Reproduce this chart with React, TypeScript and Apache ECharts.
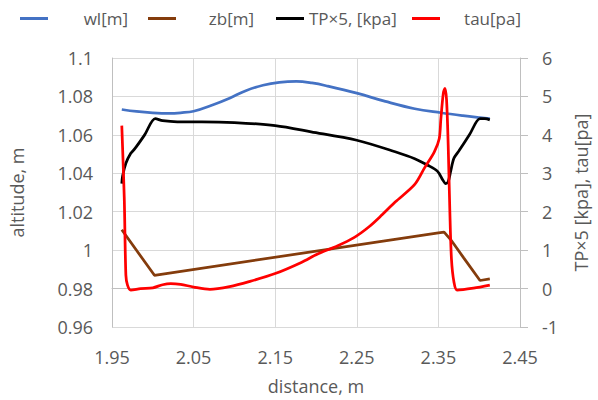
import React, { useEffect, useRef } from "react";
import * as echarts from "echarts";

// distance (m) / value pairs
const wlX = [1.962, 1.98, 2.0, 2.02, 2.034, 2.05, 2.074, 2.094, 2.114, 2.135, 2.155, 2.176, 2.195, 2.214, 2.25, 2.285, 2.321, 2.353, 2.38, 2.401, 2.413];
const wlY = [1.0732, 1.0722, 1.0715, 1.0712, 1.0715, 1.0723, 1.0757, 1.0791, 1.083, 1.0858, 1.0873, 1.0878, 1.087, 1.0854, 1.0817, 1.0774, 1.0736, 1.0715, 1.07, 1.069, 1.0685];

const zbX = [1.962, 2.002, 2.35, 2.357, 2.365, 2.381, 2.401, 2.413];
const zbY = [1.0106, 0.9869, 1.009, 1.0094, 1.0055, 0.996, 0.9842, 0.985];

const tpX = [1.962, 1.963, 1.967, 1.973, 1.978, 1.99, 2.003, 2.012, 2.03, 2.06, 2.1, 2.15, 2.194, 2.25, 2.297, 2.321, 2.337, 2.349, 2.355, 2.359, 2.362, 2.365, 2.369, 2.375, 2.388, 2.401, 2.407, 2.413];
const tpY = [2.73, 2.93, 3.26, 3.52, 3.64, 4.0, 4.42, 4.37, 4.34, 4.34, 4.32, 4.24, 4.08, 3.86, 3.56, 3.38, 3.21, 3.05, 2.84, 2.73, 2.78, 3.05, 3.39, 3.58, 4.0, 4.42, 4.42, 4.39];

const tauX = [1.962, 1.965, 1.967, 1.969, 1.973, 1.985, 2.0, 2.012, 2.022, 2.034, 2.05, 2.07, 2.094, 2.118, 2.15, 2.182, 2.202, 2.226, 2.246, 2.265, 2.281, 2.297, 2.321, 2.333, 2.345, 2.351, 2.353, 2.356, 2.358, 2.36, 2.362, 2.364, 2.366, 2.369, 2.373, 2.393, 2.413];
const tauY = [4.24, 2.38, 0.35, 0.09, -0.04, 0.0, 0.02, 0.1, 0.13, 0.11, 0.04, -0.02, 0.05, 0.18, 0.39, 0.68, 0.9, 1.11, 1.32, 1.61, 1.92, 2.25, 2.71, 3.14, 3.56, 3.9, 4.41, 5.08, 5.21, 4.91, 3.73, 2.04, 0.77, 0.18, -0.04, 0.01, 0.09];

const seriesNames = ["wl[m]", "zb[m]", "TP×5, [kpa]", "tau[pa]"];
const xTitle = "distance, m";
const yLeftTitle = "altitude, m";
const yRightTitle = "TP×5 [kpa], tau[pa]";

const pairs = (xs: number[], ys: number[]) => xs.map((x, i) => [x, ys[i]]);

export default function App() {
  const ref = useRef<HTMLDivElement>(null);
  useEffect(() => {
    document.body.style.margin = "0";
    const chart = echarts.init(ref.current!, null, { renderer: "svg" });
    const font = "'Open Sans', sans-serif";
    const fs = 18;
    const txt = "#595959";
    const colors = ["#4472C4", "#843C0C", "#000000", "#FF0000"];
    const legendLeft = [20, 148, 276, 412];
    const legendW = [75, 73, 0, 76];
    const legends = seriesNames.map((n, i) => ({
      left: legendLeft[i],
      top: 10,
      padding: 0,
      data: [n],
      icon: "rect",
      itemWidth: 28,
      itemHeight: 3,
      formatter: (name: string) => `{a|${name}}`,
      textStyle: {
        rich: {
          a: legendW[i]
            ? { width: legendW[i], align: "right", fontSize: 17, lineHeight: 22, fontFamily: font, color: txt }
            : { fontSize: 17, lineHeight: 22, fontFamily: font, color: txt },
        },
      },
    }));
    const line = (i: number, data: number[][], yAxisIndex: number, smooth: number | boolean) => ({
      name: seriesNames[i],
      type: "line",
      yAxisIndex,
      data,
      symbol: "none",
      smooth,
      lineStyle: { color: colors[i], width: 2.75 },
      itemStyle: { color: colors[i] },
    });
    chart.setOption({
      animation: false,
      textStyle: { fontFamily: font },
      legend: legends,
      grid: { left: 109, right: 71, top: 58, bottom: 67, containLabel: false },
      xAxis: {
        type: "value",
        min: 1.95,
        max: 2.45,
        interval: 0.1,
        name: xTitle,
        nameLocation: "middle",
        nameGap: 50,
        nameTextStyle: { fontSize: fs, color: txt, fontFamily: font },
        axisLine: { show: true, lineStyle: { color: "#BFBFBF" } },
        axisTick: { show: false },
        axisLabel: {
          fontSize: fs,
          color: txt,
          fontFamily: font,
          margin: 21,
          formatter: (v: number) => v.toFixed(2),
        },
        splitLine: { show: true, lineStyle: { color: "#D9D9D9", width: 1 } },
      },
      yAxis: [
        {
          type: "value",
          min: 0.96,
          max: 1.1,
          interval: 0.02,
          name: yLeftTitle,
          nameLocation: "middle",
          nameRotate: 90,
          nameGap: 86,
          nameTextStyle: { fontSize: fs, color: txt, fontFamily: font },
          axisLine: { show: true, lineStyle: { color: "#BFBFBF" } },
          axisTick: { show: false },
          axisLabel: {
            fontSize: fs,
            color: txt,
            fontFamily: font,
            margin: 19,
            formatter: (v: number) => String(parseFloat(v.toFixed(2))),
          },
          splitLine: { show: true, lineStyle: { color: "#D9D9D9", width: 1 } },
        },
        {
          type: "value",
          min: -1,
          max: 6,
          interval: 1,
          position: "right",
          name: yRightTitle,
          nameLocation: "middle",
          nameRotate: 90,
          nameGap: 52,
          nameTextStyle: { fontSize: fs, color: txt, fontFamily: font },
          axisLine: { show: true, lineStyle: { color: "#BFBFBF" } },
          axisTick: { show: true, inside: false, length: 8, lineStyle: { color: "#BFBFBF" } },
          axisLabel: { fontSize: fs, color: txt, fontFamily: font, margin: 22 },
          splitLine: { show: false },
        },
      ],
      series: [
        line(0, pairs(wlX, wlY), 0, 0.4),
        line(1, pairs(zbX, zbY), 0, false),
        line(2, pairs(tpX, tpY), 1, 0.3),
        line(3, pairs(tauX, tauY), 1, 0.3),
      ],
    });
    return () => chart.dispose();
  }, []);
  return <div ref={ref} style={{ width: 598, height: 400 }} />;
}
